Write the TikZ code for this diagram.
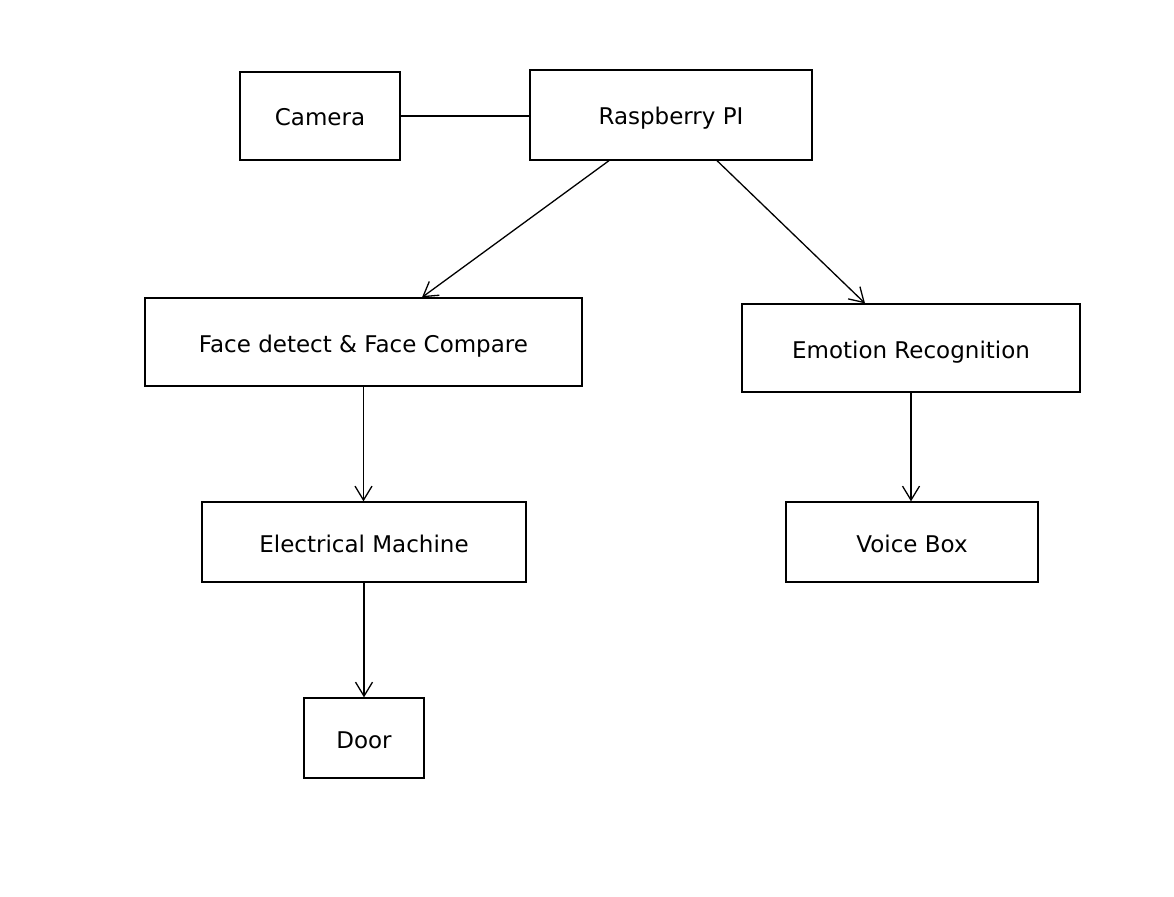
\documentclass[tikz,border=0pt]{standalone}
\usepackage{fontspec}
\setmainfont{DejaVu Sans}
\usetikzlibrary{arrows.meta}
\begin{document}
\begin{tikzpicture}[x=1pt,y=-1pt,
  box/.style={draw=black,line width=1.3pt,inner sep=0pt,text height=20pt,text depth=0pt,font=\fontsize{23}{27}\selectfont},
  conn/.style={draw=black,line width=1.3pt},
  arr/.style={conn,-{Straight Barb[length=14pt,width=17pt,line width=1.3pt]}}]
\useasboundingbox (0,0) rectangle (1174,896);
\node[box,minimum width=160pt,minimum height=88pt] (cam) at (320,116) {Camera};
\node[box,minimum width=282pt,minimum height=90pt] (rpi) at (671,115) {Raspberry PI};
\node[box,minimum width=437pt,minimum height=88pt] (face) at (363.5,342) {Face detect \& Face Compare};
\node[box,minimum width=338pt,minimum height=88pt] (emo) at (911,348) {Emotion Recognition};
\node[box,minimum width=324pt,minimum height=80pt] (elec) at (364,542) {Electrical Machine};
\node[box,minimum width=252pt,minimum height=80pt] (voice) at (912,542) {Voice Box};
\node[box,minimum width=120pt,minimum height=80pt] (door) at (364,738) {Door};
\draw[conn] (cam.east) -- (cam.east -| rpi.west);
\draw[arr] ([xshift=-62pt]rpi.south) -- ([xshift=58.5pt]face.north);
\draw[arr] ([xshift=46pt]rpi.south) -- ([xshift=-46pt]emo.north);
\draw[arr] (face.south) -- (face.south |- elec.north);
\draw[arr] (emo.south) -- (emo.south |- voice.north);
\draw[arr] (elec.south) -- (door.north);
\end{tikzpicture}
\end{document}
